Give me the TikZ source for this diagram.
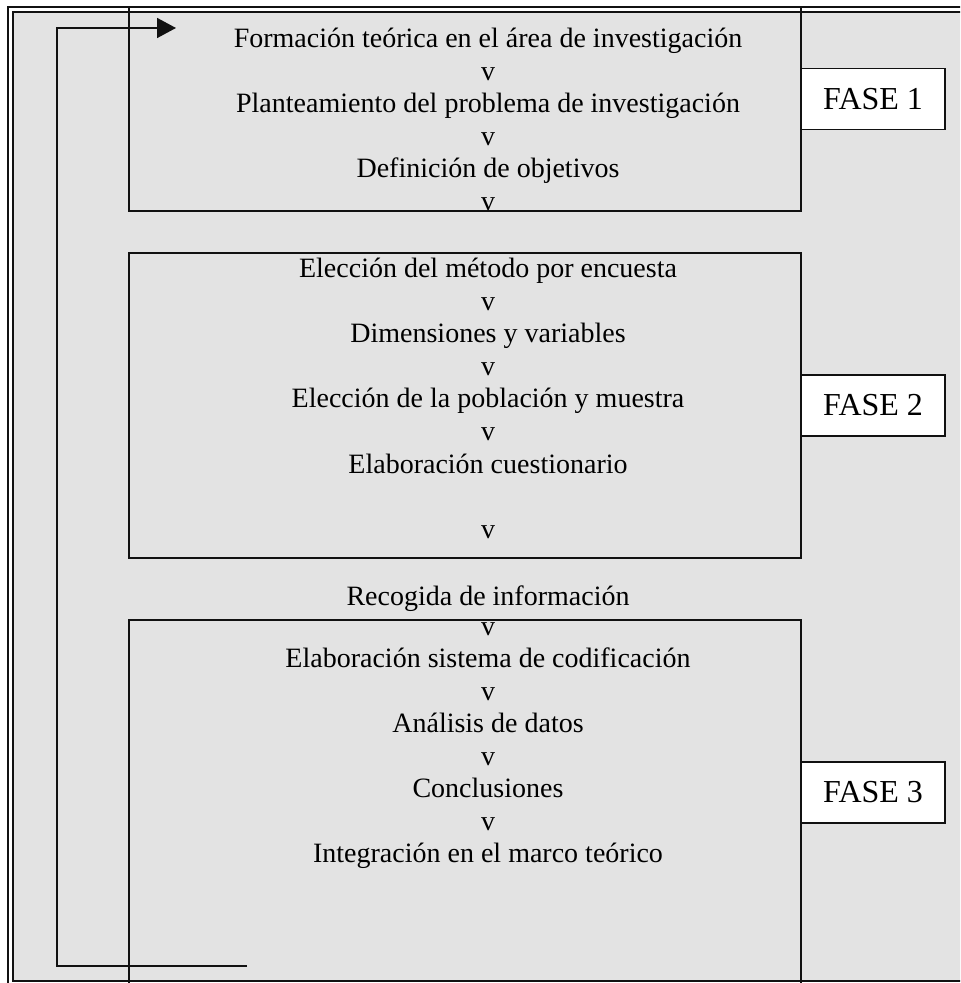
\documentclass[tikz,border=0pt]{standalone}
\usepackage{fontspec}
\setmainfont{Liberation Serif}
\usepackage{tikz}
\usetikzlibrary{arrows.meta,positioning}
\definecolor{Fondo}{HTML}{E3E3E3}
\definecolor{Linea}{HTML}{111111}
\tikzset{
  paso/.style={anchor=base,inner sep=0pt,font=\fontsize{14}{16}\selectfont},
  fase/.style={draw=Linea,fill=white,line width=0.8pt,minimum width=72pt,
    minimum height=30.5pt,inner sep=0pt,font=\fontsize{16}{18}\selectfont},
  caja/.style={draw=Linea,line width=0.8pt},
}

\begin{document}
\begin{tikzpicture}[x=0.5pt,y=-0.5pt]
  \useasboundingbox (0,0) rectangle (960,983);
  \clip (0,0) rectangle (960,983);
  \fill[white] (0,0) rectangle (960,983);
  % marco doble
  \draw[Linea,line width=1pt] (8,7) rectangle (968,992);
  \draw[Linea,fill=Fondo,line width=1pt] (13,12) rectangle (963,981);
  % cajas de las fases
  \draw[caja] (129,7) rectangle (801,211);
  \draw[caja] (129,253) rectangle (801,558);
  \draw[caja] (129,620) rectangle (801,995);
  \foreach \y/\lab [count=\i] in {
      48/Formación teórica en el área de investigación, 80.5/v,
      113/Planteamiento del problema de investigación, 145.5/v,
      178/Definición de objetivos, 210.5/v,
      278/Elección del método por encuesta, 310.5/v,
      343/Dimensiones y variables, 375.5/v,
      408/Elección de la población y muestra, 440.5/v,
      473/Elaboración cuestionario, 538/v,
      605/Recogida de información, 635/v,
      667.5/Elaboración sistema de codificación, 700/v,
      732.5/Análisis de datos, 765/v,
      797.5/Conclusiones, 830/v,
      862.5/Integración en el marco teórico}{
    \node[paso] (p\i) at (488,\y) {\lab};
  }
  \node[fase] (fase1) at (873,99) {FASE 1};
  \node[fase] (fase2) at (873,405.5) {FASE 2};
  \node[fase] (fase3) at (873,792.5) {FASE 3};
  % retorno
  \coordinate (vuelta) at (247,966);
  \coordinate (entrada) at (176,28);
  \draw[Linea,line width=0.8pt,-{Triangle[length=9.5pt,width=10pt]}]
    (vuelta) -- ++(-190,0) |- (entrada);
\end{tikzpicture}
\end{document}
